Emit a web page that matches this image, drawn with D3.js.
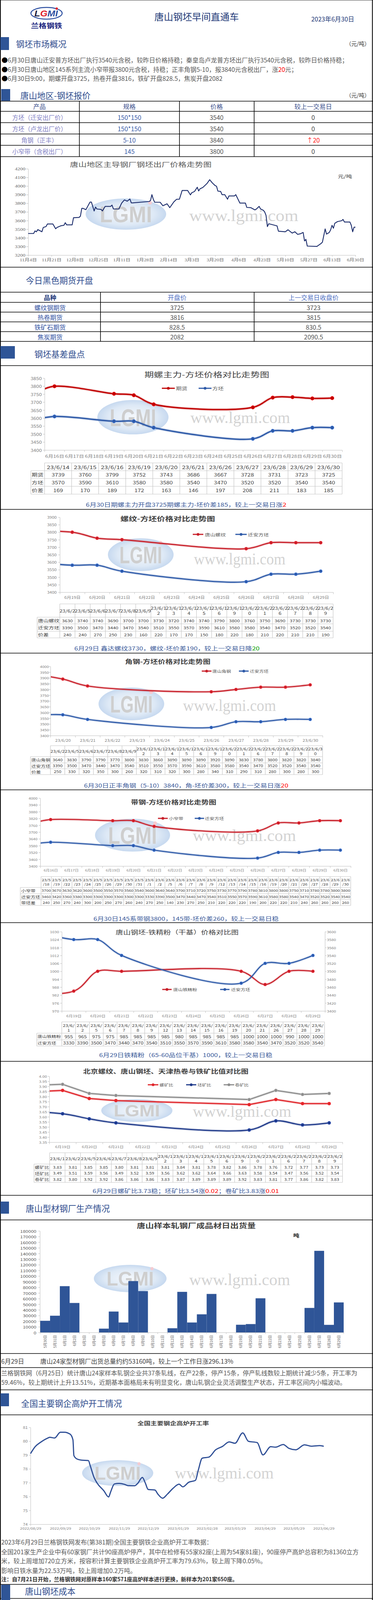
<!DOCTYPE html>
<html>
<head>
<meta charset="utf-8">
<title>唐山钢坯早间直通车</title>
<script src="https://cdn.jsdelivr.net/npm/d3@7/dist/d3.min.js"></script>
<style>
  body { margin: 0; background: #fff; }
  svg { display: block; }
</style>
</head>
<body>
<script>
// ================= data =================
// 唐山地区-钢坯报价
const quoteProducts = ["方坯（迁安出厂价）", "方坯（卢龙出厂价）", "角钢（正丰）", "小窄带（含税出厂）"];
const quoteSpecs = ["150*150", "150*150", "5-10", "145"];
const quotePrices = [3540, 3540, 3840, 3800];
const quoteChanges = [0, 0, 20, 0];

// 今日黑色期货开盘
const futNames = ["螺纹钢期货", "热卷期货", "铁矿石期货", "焦炭期货"];
const futOpen = ["3725", "3816", "828.5", "2082"];
const futPrev = ["3723", "3815", "830.5", "2090.5"];

// 唐山地区主导钢厂钢坯出厂价格走势
const billetDates = [
  "22-11-04","22-11-08","22-11-09","22-11-10","22-11-11","22-11-14","22-11-15","22-11-17","22-11-18","22-11-22",
  "22-11-24","22-11-25","22-11-28","22-11-30","22-12-01","22-12-02","22-12-06","22-12-07","22-12-11","22-12-12",
  "22-12-13","22-12-14","22-12-16","22-12-19","22-12-20","22-12-22","22-12-23","22-12-24","22-12-27","22-12-28",
  "22-12-30","23-01-03","23-01-04","23-01-05","23-01-09","23-01-11","23-01-13","23-01-14","23-01-15","23-01-17",
  "23-01-18","23-01-19","23-01-31","23-02-01","23-02-02","23-02-03","23-02-04","23-02-08","23-02-10","23-02-13",
  "23-02-15","23-02-18","23-02-20","23-02-22","23-02-24","23-02-28","23-03-02","23-03-03","23-03-05","23-03-07",
  "23-03-08","23-03-09","23-03-11","23-03-14","23-03-16","23-03-18","23-03-20","23-03-21","23-03-22","23-03-24",
  "23-03-25","23-03-27","23-03-29","23-03-30","23-04-03","23-04-04","23-04-07","23-04-11","23-04-12","23-04-15",
  "23-04-18","23-04-19","23-04-21","23-04-22","23-04-24","23-04-25","23-04-26","23-04-27","23-04-28","23-05-04",
  "23-05-05","23-05-10","23-05-12","23-05-15","23-05-17","23-05-19","23-05-21","23-05-23","23-05-24","23-05-25",
  "23-05-26","23-06-02","23-06-05","23-06-06","23-06-08","23-06-09","23-06-11","23-06-12","23-06-13","23-06-14",
  "23-06-15","23-06-17","23-06-20","23-06-21","23-06-22","23-06-26","23-06-27","23-06-28","23-06-29","23-06-30"];
const billetPrices = [
  3450,3450,3480,3470,3495,3470,3520,3530,3560,3560,
  3505,3520,3540,3545,3575,3550,3550,3633,3636,3651,
  3741,3741,3726,3814,3814,3711,3756,3734,3729,3711,
  3764,3764,3779,3734,3734,3802,3839,3832,3824,3850,
  3805,3805,3821,3832,3900,3847,3812,3812,3771,3794,
  3749,3817,3847,3847,3948,3948,3897,3922,3937,3986,
  3943,3968,3983,4028,4073,4035,4005,3997,3941,3937,
  3900,3900,3847,3885,3885,3900,3802,3802,3752,3749,
  3723,3734,3764,3734,3719,3700,3660,3530,3563,3538,
  3477,3470,3493,3455,3470,3440,3447,3462,3364,3382,
  3304,3300,3334,3349,3503,3443,3462,3493,3545,3511,
  3568,3588,3598,3613,3583,3583,3545,3470,3523,3523];

// 期螺主力-方坯
const basisDates = ["23/6/14","23/6/15","23/6/16","23/6/19","23/6/20","23/6/21","23/6/26","23/6/27","23/6/28","23/6/29","23/6/30"];
const basisFutures = [3739, 3760, 3799, 3752, 3743, 3686, 3667, 3728, 3731, 3723, 3725];
const basisBillet = [3570, 3590, 3610, 3580, 3580, 3540, 3470, 3520, 3520, 3540, 3540];
const basisSpread = [169, 170, 189, 172, 163, 146, 197, 208, 211, 183, 185];

// 螺纹-方坯
const rebarDates = ["23/6/2","23/6/5","23/6/6","23/6/7","23/6/8","23/6/9","23/6/12","23/6/13","23/6/14","23/6/15","23/6/16","23/6/19","23/6/20","23/6/21","23/6/26","23/6/27","23/6/28","23/6/29"];
const rebarPrice = [3630,3740,3740,3690,3700,3700,3730,3720,3740,3740,3790,3800,3760,3750,3690,3730,3730,3730];
const rebarBillet = [3390,3500,3470,3440,3470,3540,3510,3550,3570,3590,3610,3580,3580,3540,3470,3520,3520,3540];
const rebarSpread = [240,240,270,250,230,160,220,170,170,150,180,220,180,210,220,210,210,190];

// 角钢-方坯
const angleDates = ["23/6/2","23/6/5","23/6/6","23/6/7","23/6/8","23/6/9","23/6/12","23/6/13","23/6/14","23/6/15","23/6/16","23/6/19","23/6/20","23/6/21","23/6/26","23/6/27","23/6/28","23/6/29","23/6/30"];
const anglePrice = [3640,3830,3790,3790,3770,3800,3830,3860,3890,3890,3890,3920,3890,3830,3780,3800,3820,3820,3840];
const angleBillet = [3390,3500,3470,3440,3470,3540,3510,3550,3570,3590,3610,3580,3580,3540,3470,3520,3520,3540,3540];
const angleSpread = [250,330,320,350,300,260,320,310,320,300,280,340,310,290,310,280,300,280,300];

// 带钢-方坯
const stripDates = ["23/5/18","23/5/19","23/5/22","23/5/23","23/5/24","23/5/25","23/5/26","23/5/29","23/5/30","23/5/31",
  "23/6/1","23/6/2","23/6/5","23/6/6","23/6/7","23/6/8","23/6/9","23/6/12","23/6/13","23/6/14",
  "23/6/15","23/6/16","23/6/19","23/6/20","23/6/21","23/6/26","23/6/27","23/6/28","23/6/29","23/6/30"];
const stripPrice = [3700,3670,3630,3620,3600,3500,3550,3570,3560,3540,3600,3640,3640,3700,3710,3720,3750,3730,3770,3790,3780,3810,3800,3800,3750,3710,3780,3780,3800,3800];
const stripBillet = [3460,3420,3360,3380,3300,3300,3300,3300,3300,3300,3330,3390,3500,3470,3440,3470,3540,3510,3550,3570,3590,3610,3580,3580,3540,3470,3520,3520,3540,3540];
const stripSpread = [240,250,270,240,300,200,250,270,260,240,270,250,140,230,270,250,210,220,220,220,190,200,220,220,210,240,260,260,260,260];

// 钢坯-铁精粉
const oreDates = ["23/6/1","23/6/2","23/6/5","23/6/6","23/6/7","23/6/8","23/6/9","23/6/12","23/6/13","23/6/14","23/6/15","23/6/16","23/6/19","23/6/20","23/6/21","23/6/26","23/6/27","23/6/28","23/6/29"];
const orePrice = [955,965,975,975,985,985,985,985,980,985,985,985,985,1000,1000,1000,990,1000,1000];
const oreBillet = [3330,3390,3500,3470,3440,3470,3540,3510,3550,3570,3590,3610,3580,3580,3540,3470,3520,3520,3540];

// 比值
const ratioDates = oreDates;
const ratioRebar = [3.83,3.81,3.85,3.85,3.80,3.81,3.81,3.81,3.84,3.81,3.78,3.82,3.86,3.78,3.76,3.72,3.77,3.73,3.73];
const ratioBillet = [3.49,3.51,3.59,3.56,3.49,3.52,3.59,3.56,3.62,3.62,3.64,3.66,3.63,3.58,3.54,3.47,3.56,3.52,3.54];
const ratioCoil = [3.82,3.80,3.92,3.92,3.86,3.86,3.86,3.83,3.87,3.89,3.89,3.89,3.92,3.83,3.81,3.77,3.86,3.82,3.83];

// 成品材日出货量
const shipDays = ["5月30日","5月31日","6月1日","6月2日","6月3日","6月4日","6月5日","6月6日","6月7日","6月8日","6月9日",
  "6月10日","6月11日","6月12日","6月13日","6月14日","6月15日","6月16日","6月17日","6月18日","6月19日","6月20日",
  "6月21日","6月22日","6月23日","6月24日","6月25日","6月26日","6月27日","6月28日","6月29日"];
const shipValues = [20600,29600,82000,52200,0,0,6700,37000,17600,91000,73200,
  0,0,7400,71900,17600,32100,68200,0,0,13600,14800,
  60500,0,0,0,0,43400,144600,13420,53160];

// 高炉开工率
const bfDates = ["2022-08-29","2022-09-03","2022-09-08","2022-09-16","2022-09-18","2022-09-23","2022-09-29","2022-10-03","2022-10-09","2022-10-12",
  "2022-10-13","2022-10-16","2022-10-21","2022-10-28","2022-10-30","2022-11-03","2022-11-06","2022-11-13","2022-11-18","2022-11-20",
  "2022-11-24","2022-11-29","2022-12-04","2022-12-08","2022-12-15","2022-12-18","2022-12-23","2022-12-26","2022-12-29","2023-01-05",
  "2023-01-08","2023-01-13","2023-01-18","2023-01-24","2023-01-30","2023-02-03","2023-02-09","2023-02-16","2023-02-19","2023-02-23",
  "2023-03-02","2023-03-09","2023-03-16","2023-03-23","2023-03-29","2023-04-06","2023-04-12","2023-04-21","2023-04-27","2023-05-05",
  "2023-05-10","2023-05-18","2023-05-24","2023-05-31","2023-06-09","2023-06-16","2023-06-25","2023-06-29"];
const bfRates = [79.10,79.62,79.90,80.23,80.28,80.23,80.65,80.65,80.51,80.10,
  78.96,78.72,78.63,78.60,78.21,77.36,76.98,76.42,75.97,76.32,
  76.91,76.95,76.89,76.79,76.78,76.94,77.38,76.98,76.51,76.47,
  76.18,75.88,76.18,76.61,76.89,76.70,77.03,77.17,77.92,78.77,
  78.85,79.38,79.62,79.95,79.85,80.60,79.99,79.90,79.01,79.60,
  79.57,79.76,79.48,79.38,79.74,79.64,79.68,79.63];
const bfTicks = ["2022/08/29","2022/09/29","2022/10/29","2022/11/29","2022/12/29","2023/01/29","2023/02/28","2023/03/29","2023/04/29","2023/05/29","2023/06/29"];

// 钢坯出厂价与成本（2023-03-15 起逐日）
const costStart = "2023-03-15";
const costBillet = [
  4067,4010,4000,3989,3968,3942,3938,3903,3900,3845,
  3845,3855,3865,3880,3880,3882,3900,3886,3856,3829,
  3800,3800,3800,3800,3786,3771,3751,3750,3750,3719,
  3739,3740,3740,3740,3742,3759,3727,3680,3634,3583,
  3546,3528,3560,3557,3499,3487,3482,3478,3475,3474,
  3470,3470,3470,3470,3470,3489,3446,3470,3465,3452,
  3440,3440,3445,3455,3462,3423,3399,3378,3364,3360,
  3380,3300,3300,3300,3300,3300,3300,3300,3300,3340,
  3400,3450,3488,3501,3478,3440,3499,3540,3533,3513,
  3513,3552,3575,3602,3610,3598,3587,3580,3545,3522,
  3505,3490,3478,3470,3522,3522,3535];
const costAvg = [
  3926,3982,3982,3982,3982,3982,3982,3956,3956,3956,
  3956,3956,3956,3956,3921,3921,3921,3921,3921,3921,
  3921,3921,3921,3921,3921,3921,3921,3921,3870,3870,
  3870,3870,3870,3870,3870,3815,3815,3815,3815,3815,
  3815,3815,3766,3766,3766,3766,3727,3703,3675,3649,
  3623,3618,3618,3618,3618,3618,3542,3542,3542,3542,
  3542,3542,3542,3525,3525,3525,3497,3470,3443,3443,
  3443,3443,3443,3443,3443,3443,3443,3411,3411,3411,
  3411,3411,3411,3411,3382,3382,3382,3382,3382,3382,
  3382,3376,3376,3376,3376,3376,3376,3376,3440,3440,
  3440,3440,3440,3440,3440,3416,3416];

// ================= page =================
const W = 954, H = 4467;
const FONT = "'Noto Sans CJK SC','Noto Sans',sans-serif";
const SERIF = "'Liberation Serif','Noto Sans CJK SC',serif";
const SX = 1.3;              // the chart pictures are stretched sideways
const RED = "#c8202a", BLUE = "#2e5aa8", CAP = "#3b5a9a";

const svg = d3.select("body").append("svg").attr("width", W).attr("height", H);
svg.append("rect").attr("width", W).attr("height", H).attr("fill", "#fff");
const defs = svg.append("defs");
const layer = svg.append("g");

function txt(g, x, y, s, o = {}) {
  const t = g.append("text")
    .attr("transform", `translate(${x},${y})` + (o.sx ? ` scale(${o.sx},1)` : ""))
    .attr("font-family", o.family || FONT)
    .attr("font-size", o.size || 14)
    .attr("font-weight", o.weight || 400)
    .attr("fill", o.fill || "#444")
    .attr("text-anchor", o.anchor || "start")
    .attr("dominant-baseline", "central");
  if (Array.isArray(s)) s.forEach(p => t.append("tspan").attr("fill", p[1] || null).text(p[0]));
  else t.text(s);
  return t;
}

// watermark
const grad = defs.append("radialGradient").attr("id", "wmfill");
grad.append("stop").attr("offset", "0%").attr("stop-color", "#f3f7fc");
grad.append("stop").attr("offset", "70%").attr("stop-color", "#d6e4f4");
grad.append("stop").attr("offset", "100%").attr("stop-color", "#b9d0ec");
function watermark(cx, cy, rx, ry, tx, ty, tw, ts) {
  const g = layer.append("g").attr("opacity", 0.8);
  g.append("ellipse").attr("cx", cx).attr("cy", cy).attr("rx", rx).attr("ry", ry).attr("fill", "url(#wmfill)");
  const fs = ry * 1.45, k = (rx * 1.3) / (2.5 * fs);
  g.append("text").attr("transform", `translate(${cx},${cy}) scale(${k},1)`).attr("dy", "0.36em")
    .attr("text-anchor", "middle").attr("font-family", "'Liberation Sans',sans-serif")
    .attr("font-weight", 700).attr("font-size", fs).attr("fill", "#c3c3c3").text("LGMI");
  g.append("circle").attr("cx", cx + rx * 0.6).attr("cy", cy - ry * 0.72)
    .attr("r", Math.max(3, ry * 0.12)).attr("fill", "#f2c0c8");
  g.append("text").attr("x", tx).attr("y", ty).attr("dy", "0.3em")
    .attr("font-family", "'Liberation Serif',serif").attr("font-size", ts).attr("fill", "#c9c9c9")
    .attr("textLength", tw).attr("lengthAdjust", "spacingAndGlyphs").text("www.lgmi.com");
}

function axisY(g, scale, ax, ticks, o) {
  const gen = (o.right ? d3.axisRight(scale) : d3.axisLeft(scale))
    .tickValues(ticks).tickSize(o.tick ?? 4).tickSizeOuter(0).tickFormat(o.fmt || d3.format("d"));
  const a = g.append("g").attr("transform", `translate(${ax},0)`).call(gen);
  a.attr("font-family", null).attr("font-size", null);
  a.select(".domain").attr("stroke", "#bfbfbf");
  a.selectAll(".tick line").attr("stroke", "#bfbfbf");
  a.selectAll(".tick text").attr("x", null).attr("dy", null)
    .attr("transform", `translate(${o.right ? o.gap : -o.gap},0) scale(${o.sx ?? SX},1)`)
    .attr("dominant-baseline", "central").attr("fill", o.color || "#808080")
    .attr("font-size", o.size).attr("font-family", o.family || FONT);
  return a;
}
function axisX(g, scale, yAx, ticks, fmt, o) {
  const a = g.append("g").attr("transform", `translate(0,${yAx})`)
    .call(d3.axisBottom(scale).tickValues(ticks).tickSize(o.tick ?? 0).tickSizeOuter(0).tickFormat(fmt));
  a.attr("font-family", null).attr("font-size", null);
  if (o.noDomain) a.select(".domain").remove(); else a.select(".domain").attr("stroke", "#bfbfbf");
  a.selectAll(".tick line").attr("stroke", "#bfbfbf");
  a.selectAll(".tick text").attr("y", null).attr("dy", null)
    .attr("transform", `translate(0,${o.off}) scale(${o.sx ?? SX},1)`)
    .attr("dominant-baseline", "central").attr("fill", o.color || "#808080")
    .attr("font-size", o.size).attr("font-family", o.family || FONT);
  return a;
}

function legend(g, y, items, size, dots = true) {
  items.forEach(it => {
    g.append("line").attr("x1", it[2]).attr("x2", it[3]).attr("y1", y).attr("y2", y)
      .attr("stroke", it[1]).attr("stroke-width", 3);
    if (dots) g.append("circle").attr("cx", (it[2] + it[3]) / 2).attr("cy", y).attr("r", 3.5).attr("fill", it[1]);
    txt(g, it[4], y, it[0], { size, sx: SX, fill: it[5] || "#595959" });
  });
}

function dataTable(g, t) {
  const n = t.heads.length;
  const band = d3.scaleBand().domain(d3.range(n)).range([t.x0, t.x1]);
  const col = "#c6c6c6", ys = t.ys, yEnd = ys[ys.length - 1];
  ys.forEach((yy, i) => g.append("line").attr("x1", i === 0 ? t.x0 : t.lx).attr("x2", t.x1)
    .attr("y1", yy).attr("y2", yy).attr("stroke", col).attr("stroke-width", 1.2));
  g.append("line").attr("x1", t.lx).attr("x2", t.lx).attr("y1", ys[1]).attr("y2", yEnd).attr("stroke", col).attr("stroke-width", 1.2);
  d3.range(n + 1).forEach(i => {
    const xx = t.x0 + i * band.step();
    g.append("line").attr("x1", xx).attr("x2", xx).attr("y1", ys[0]).attr("y2", yEnd).attr("stroke", col).attr("stroke-width", 1.2);
  });
  const fmt = t.fmt || (v => String(v));
  t.heads.forEach((h, i) => {
    const lines = t.split && h.length > t.split ? [h.slice(0, t.split), h.slice(t.split)] : [h];
    const cy = (ys[0] + ys[1]) / 2, lh = t.hfs * 1.3;
    lines.forEach((s, k) => txt(g, band(i) + band.bandwidth() / 2, cy + (k - (lines.length - 1) / 2) * lh, s,
      { size: t.hfs, sx: SX, anchor: "middle", fill: "#404040" }));
  });
  t.rows.forEach((r, j) => {
    const cy = (ys[j + 1] + ys[j + 2]) / 2;
    txt(g, t.lx + 2, cy, r[0], { size: t.lfs, sx: SX, fill: "#404040" });
    r[1].forEach((v, i) => txt(g, band(i) + band.bandwidth() / 2, cy, fmt(v),
      { size: t.fs, sx: SX, anchor: "middle", fill: "#404040" }));
  });
}

function parseCat(s) {
  const [yy, m, d] = s.split("/").map(Number);
  return new Date(2000 + yy, m - 1, d, 12);
}
const mdFmt = d => `${d.getMonth() + 1}月${d.getDate()}日`;

function catChart(c) {
  if (c.wm) watermark(...c.wm);
  const g = layer.append("g");
  const t0 = new Date(2023, c.start[0] - 1, c.start[1]);
  const x = d3.scaleTime().domain([t0, d3.timeDay.offset(t0, c.n)]).range([c.x0, c.x1]);
  const y = d3.scaleLinear().domain([c.yMin, c.yMax]).range([c.yBot, c.yTop]);
  txt(g, c.tx, c.ty, c.title, { size: c.tsize, weight: c.tweight || 400, sx: SX, anchor: "middle", fill: "#404040" });
  const yt = c.yTicks || d3.range(c.yMin, c.yMax + c.yStep / 2, c.yStep);
  axisY(g, y, c.x0, yt, { gap: c.x0 - c.yLab, size: c.ySize, fmt: c.yFmt });
  let yR = null;
  if (c.right) {
    yR = d3.scaleLinear().domain([c.right.min, c.right.max]).range([c.yBot, c.yTop]);
    axisY(g, yR, c.x1, d3.range(c.right.min, c.right.max + 1, c.right.step),
      { right: true, gap: c.right.lab - c.x1, size: c.ySize });
  }
  const bounds = d3.range(c.n + 1).map(i => d3.timeDay.offset(t0, i));
  axisX(g, x, c.yBot, bounds, () => "", { tick: 5, off: 0, size: 1 });
  const centers = d3.range(c.n).map(i => d3.timeHour.offset(bounds[i], 12));
  axisX(g, x, c.yBot, centers, c.xFmt || mdFmt, { noDomain: true, off: c.xOff, size: c.xSize });

  const id = "clip" + c.id;
  defs.append("clipPath").attr("id", id).append("rect")
    .attr("x", c.x0 + 1).attr("y", c.yTop - 30).attr("width", c.x1 - c.x0 + 8).attr("height", c.yBot - c.yTop + 29);
  const sg = g.append("g").attr("clip-path", `url(#${id})`);
  const dates = c.dates.map(parseCat);
  c.series.forEach(s => {
    const sy = s.right ? yR : y;
    const pts = dates.map((d, i) => [x(d), sy(s.values[i])]);
    const line = d3.line().curve(s.curve || d3.curveCatmullRom);
    sg.append("path").attr("d", line(pts)).attr("fill", "none").attr("stroke", s.color)
      .attr("stroke-width", c.lw + 4).attr("stroke-opacity", 0.16).attr("stroke-linecap", "round");
    sg.append("path").attr("d", line(pts)).attr("fill", "none").attr("stroke", s.color)
      .attr("stroke-width", c.lw).attr("stroke-linejoin", "round");
    sg.selectAll(null).data(pts).join("circle")
      .attr("cx", d => d[0]).attr("cy", d => d[1]).attr("r", c.mr)
      .attr("fill", s.color).attr("stroke", d3.color(s.color).brighter(0.9)).attr("stroke-width", 1);
  });
  legend(g, c.legY, c.legend, c.legSize);
  dataTable(g, c.table);
  txt(g, c.capX, c.capY, c.caption, { size: 13.4, sx: SX, anchor: "middle", fill: CAP });
}

// ---------- frame ----------
const frame = layer.append("g");
[0, 259, 285, 314, 343, 372, 401, 684, 748, 774, 799, 824, 849, 874, 936, 1304, 1672, 2022, 2362,
  2717, 3060, 3123, 3465, 3501, 3558, 3622, 4056, 4092, 4466].forEach(yy =>
  frame.append("line").attr("x1", 0).attr("x2", W).attr("y1", yy).attr("y2", yy).attr("stroke", "#000").attr("stroke-width", 1.6));
[1, 952.5].forEach(xx => frame.append("line").attr("x1", xx).attr("x2", xx).attr("y1", 0).attr("y2", 4466)
  .attr("stroke", "#000").attr("stroke-width", 2));
[203, 459, 650].forEach(xx => frame.append("line").attr("x1", xx).attr("x2", xx).attr("y1", 259).attr("y2", 401)
  .attr("stroke", "#000").attr("stroke-width", 1.6));
[257, 650].forEach(xx => frame.append("line").attr("x1", xx).attr("x2", xx).attr("y1", 748).attr("y2", 874)
  .attr("stroke", "#000").attr("stroke-width", 1.6));

function section(title, y, bar, textX, unit) {
  if (bar) frame.append("rect").attr("x", bar[0]).attr("y", bar[2]).attr("width", bar[1])
    .attr("height", bar[3] - bar[2]).attr("fill", "#2f5597");
  txt(frame, textX, y, title, { size: 21.5, fill: "#2e4c8e" });
  if (unit) txt(frame, 946, y, "（元/吨）", { size: 14, fill: "#333", anchor: "end" });
}

// ---------- header ----------
{
  const g = layer.append("g");
  g.append("ellipse").attr("cx", 119).attr("cy", 34).attr("rx", 40).attr("ry", 15)
    .attr("fill", "none").attr("stroke", "#2b4ea0").attr("stroke-width", 2.5);
  const t = g.append("text").attr("x", 118).attr("y", 34).attr("dy", "0.36em").attr("text-anchor", "middle")
    .attr("font-family", "'Liberation Sans',sans-serif").attr("font-weight", 700).attr("font-style", "italic")
    .attr("font-size", 22).attr("textLength", 60).attr("lengthAdjust", "spacingAndGlyphs");
  [["L", "#1c1c3c"], ["G", "#e0202a"], ["M", "#2b4ea0"], ["I", "#2b4ea0"]].forEach(p => t.append("tspan").attr("fill", p[1]).text(p[0]));
  g.append("circle").attr("cx", 145).attr("cy", 22).attr("r", 3).attr("fill", "#e0202a");
  txt(g, 119, 64, "兰格钢铁", { size: 17, weight: 700, fill: "#1a237e", anchor: "middle" })
    .attr("textLength", 80).attr("lengthAdjust", "spacingAndGlyphs");
  txt(g, 503, 41, "唐山钢坯早间直通车", { size: 24, fill: "#1f3a78", anchor: "middle" });
  txt(g, 851, 48, "2023年6月30日", { size: 16, fill: "#1f3a78", anchor: "middle" });
}

// ---------- 钢坯市场概况 ----------
section("钢坯市场概况", 111, [1, 22, 95, 128], 41, true);
{
  const g = layer.append("g");
  const lines = [
    [["●", "#000"], ["6月30日唐山迁安普方坯出厂执行3540元含税，较昨日价格持稳；秦皇岛卢龙普方坯出厂执行3540元含税，较昨日价格持稳；"]],
    [["●", "#000"], ["6月30日唐山地区145系列主流小窄带报3800元含税，持稳；正丰角钢5-10，报3840元含税出厂，涨"], ["20", "#ff0000"], ["元；"]],
    [["●", "#000"], ["6月30日9:00，期螺开盘3725，热卷开盘3816，铁矿开盘828.5，焦炭开盘2082"]]
  ];
  [153, 177, 200].forEach((yy, i) => txt(g, 4, yy, lines[i], { size: 15.8, fill: "#595959" }));
}

// ---------- 唐山地区-钢坯报价 ----------
section("唐山地区-钢坯报价", 243, [3, 23, 228, 258], 52, true);
{
  const g = layer.append("g");
  const cols = [101, 331, 554, 801];
  ["产品", "规格", "价格", "较上一交易日"].forEach((h, i) => txt(g, cols[i], 272, h, { size: 16, fill: "#3b4f8c", anchor: "middle" }));
  const rowY = d3.scaleBand().domain(d3.range(quoteProducts.length)).range([285, 401]);
  quoteProducts.forEach((p, i) => {
    const cy = rowY(i) + rowY.bandwidth() / 2;
    txt(g, cols[0], cy, p, { size: 15.5, fill: "#7f80c4", anchor: "middle" });
    txt(g, cols[1], cy, quoteSpecs[i], { size: 16, fill: "#3a5ca8", anchor: "middle" });
    txt(g, cols[2], cy, String(quotePrices[i]), { size: 16, fill: "#555", anchor: "middle" });
    const ch = quoteChanges[i];
    txt(g, cols[3], cy, ch > 0 ? "↑" + ch : String(ch), { size: 16, fill: ch > 0 ? "#ff2020" : "#444", anchor: "middle" });
  });
}

// ---------- chart 1: 出厂价格走势 ----------
{
  watermark(322, 548, 103, 40, 484, 553, 279, 42);
  const g = layer.append("g");
  const parse = d3.timeParse("%y-%m-%d");
  const t0 = parse(billetDates[0]);
  const x = d3.scaleTime().domain([t0, parse(billetDates[billetDates.length - 1])]).range([72, 909]);
  const y = d3.scaleLinear().domain([3200, 4200]).range([653, 432]);
  txt(g, 360, 420, "唐山地区主导钢厂钢坯出厂价格走势图", { size: 16.4, sx: SX, fill: "#595959", anchor: "middle" });
  txt(g, 864, 451, "元/吨", { size: 11.7, sx: SX, fill: "#333" });
  axisY(g, y, 72, d3.range(3200, 4201, 100), { gap: 7, size: 10.4, family: SERIF, color: "#666", tick: 5 });
  axisX(g, x, 653, d3.range(15).map(i => d3.timeDay.offset(t0, 17 * i)), mdFmt,
    { tick: 4, off: 13, size: 9.8, family: SERIF, color: "#666" });
  g.append("path").attr("d", d3.line().x((d, i) => x(parse(d))).y((d, i) => y(billetPrices[i]))(billetDates))
    .attr("fill", "none").attr("stroke", "#1b2c6b").attr("stroke-width", 2.2).attr("stroke-linejoin", "round");
}

// ---------- 今日黑色期货开盘 ----------
section("今日黑色期货开盘", 716, null, 66, false);
{
  const g = layer.append("g");
  const cols = [128, 453, 802];
  txt(g, cols[0], 761, "品种", { size: 16, weight: 700, fill: "#1f3a7a", anchor: "middle" });
  txt(g, cols[1], 761, "开盘价", { size: 16, fill: "#4a6cc0", anchor: "middle" });
  txt(g, cols[2], 761, "上一交易日收盘价", { size: 16, fill: "#4a6cc0", anchor: "middle" });
  const rowY = d3.scaleBand().domain(d3.range(futNames.length)).range([774, 874]);
  futNames.forEach((n, i) => {
    const cy = rowY(i) + rowY.bandwidth() / 2;
    txt(g, cols[0], cy, n, { size: 16, fill: "#2f4fa0", anchor: "middle" });
    txt(g, cols[1], cy, futOpen[i], { size: 16, fill: "#555", anchor: "middle" });
    txt(g, cols[2], cy, futPrev[i], { size: 16, fill: "#555", anchor: "middle" });
  });
}

// ---------- 钢坯基差盘点 ----------
section("钢坯基差盘点", 905, [1, 37, 886, 918], 88, false);

catChart({
  id: 2, start: [6, 16], n: 15, x0: 114, x1: 875, yTop: 968, yBot: 1152, yMin: 3400, yMax: 3850, yStep: 50,
  yLab: 107, ySize: 10, xOff: 15, xSize: 10.2,
  title: "期螺主力-方坯价格对比走势图", tx: 529, ty: 958, tsize: 18.4,
  dates: basisDates, series: [{ values: basisFutures, color: "#c00000" }, { values: basisBillet, color: BLUE }],
  lw: 3.5, mr: 4.5,
  legY: 994, legSize: 11.2, legend: [["期货", "#c00000", 414, 447, 450], ["方坯", BLUE, 508, 541, 543]],
  table: { lx: 79, x0: 114, x1: 875, ys: [1185, 1205, 1225, 1245, 1265], heads: basisDates, split: 0, hfs: 12.5, fs: 11.5, lfs: 11.5,
    rows: [["期货", basisFutures], ["方坯", basisBillet], ["价差", basisSpread]] },
  capX: 476, capY: 1291, caption: [["6月30日期螺主力开盘3725期螺主力-坯价差185，较上一交易日涨"], ["2", "#ff0000"]],
  wm: [340, 1068, 91, 44, 487, 1070, 255, 42]
});

catChart({
  id: 3, start: [6, 19], n: 11, x0: 153, x1: 852, yTop: 1324, yBot: 1516, yMin: 3400, yMax: 3900, yStep: 50,
  yLab: 145, ySize: 8.5, xOff: 13, xSize: 8.7,
  title: "螺纹-方坯价格对比走势图", tx: 429, ty: 1327, tsize: 16.4, tweight: 700,
  dates: rebarDates, series: [{ values: rebarPrice, color: RED }, { values: rebarBillet, color: BLUE }],
  lw: 3, mr: 4,
  legY: 1368, legSize: 10.3, legend: [["唐山螺纹", RED, 493, 520, 524], ["迁安方坯", BLUE, 602, 631, 634]],
  table: { lx: 95, x0: 153, x1: 852, ys: [1546, 1580, 1597, 1616, 1633], heads: rebarDates, split: 6, hfs: 10.2, fs: 9.6, lfs: 10.6,
    rows: [["唐山螺纹", rebarPrice], ["迁安方坯", rebarBillet], ["价差", rebarSpread]] },
  capX: 427, capY: 1659, caption: [["6月29日 鑫达螺纹3730，螺纹-坯价差190，较上一交易日降"], ["20", "#00a000"]],
  wm: [360, 1420, 84, 42, 496, 1432, 234, 42]
});

catChart({
  id: 4, start: [6, 20], n: 11, x0: 129, x1: 825, yTop: 1706, yBot: 1883, yMin: 3400, yMax: 4000, yStep: 50,
  yLab: 125, ySize: 7.9, xOff: 12, xSize: 8.6, xFmt: d => `23/6/${d.getDate()}`,
  title: "角钢-方坯价格对比走势图", tx: 429, ty: 1693, tsize: 14.8, tweight: 700,
  dates: angleDates, series: [{ values: anglePrice, color: RED }, { values: angleBillet, color: BLUE }],
  lw: 2.8, mr: 3.8,
  legY: 1718, legSize: 9.2, legend: [["唐山角钢", RED, 516, 541, 543], ["迁安方坯", BLUE, 611, 636, 639]],
  table: { lx: 78, x0: 129, x1: 825, ys: [1909, 1937, 1953, 1968, 1983], heads: angleDates, split: 6, hfs: 9.3, fs: 8.9, lfs: 9.4,
    rows: [["唐山角钢", anglePrice], ["迁安方坯", angleBillet], ["价差", angleSpread]] },
  capX: 476, capY: 2010, caption: [["6月30日正丰角钢（5-10）3840，角-坯价差300，较上一交易日涨"], ["20", "#ff0000"]],
  wm: [336, 1802, 84, 42, 468, 1807, 238, 42]
});

catChart({
  id: 5, start: [6, 16], n: 15, x0: 103, x1: 897, yTop: 2043, yBot: 2217, yMin: 3400, yMax: 4000, yStep: 60,
  yLab: 96, ySize: 7.9, xOff: 11, xSize: 7.7,
  title: "带钢-方坯价格对比走势图", tx: 444, ty: 2053, tsize: 14.8, tweight: 700,
  dates: stripDates, series: [{ values: stripPrice, color: RED }, { values: stripBillet, color: BLUE }],
  lw: 2.8, mr: 3.8,
  legY: 2095, legSize: 9.4, legend: [["小窄带", RED, 404, 429, 432], ["迁安方坯", BLUE, 498, 522, 524]],
  table: { lx: 52, x0: 105, x1: 897, ys: [2244, 2272, 2288, 2303, 2318], heads: stripDates, split: 4, hfs: 8.4, fs: 8.3, lfs: 9.4,
    rows: [["小窄带", stripPrice], ["迁安方坯", stripBillet], ["带坯差", stripSpread]] },
  capX: 476, capY: 2351, caption: "6月30日145系带钢3800，145带-坯价差260，较上一交易日稳",
  wm: [339, 2138, 96, 42, 493, 2140, 264, 42]
});

catChart({
  id: 6, start: [6, 19], n: 11, x0: 158, x1: 831, yTop: 2385, yBot: 2588, yMin: 970, yMax: 1030, yStep: 6,
  yLab: 151, ySize: 8.1, xOff: 13, xSize: 8.2,
  right: { min: 3400, max: 3600, step: 20, lab: 836 },
  title: "唐山钢坯-铁精粉（干基）价格对比图", tx: 453, ty: 2386, tsize: 14.8,
  dates: oreDates, series: [{ values: orePrice, color: RED }, { values: oreBillet, color: BLUE, right: true }],
  lw: 2.8, mr: 3.8,
  legY: 2533, legSize: 9.4, legend: [["唐山铁精粉", RED, 415, 439, 443], ["迁安方坯", BLUE, 563, 587, 591]],
  table: { lx: 94, x0: 158, x1: 830, ys: [2616, 2645, 2662, 2678], heads: oreDates, split: 5, hfs: 9.4, fs: 10, lfs: 9.2,
    rows: [["唐山铁精粉", orePrice], ["迁安方坯", oreBillet]] },
  capX: 475, capY: 2700, caption: "6月29日铁精粉（65-60品位干基）1000，较上一交易日稳"
});

catChart({
  id: 7, start: [6, 19], n: 11, x0: 126, x1: 876, yTop: 2755, yBot: 2924, yMin: 3.35, yMax: 4.0,
  yTicks: d3.range(14).map(i => 3.35 + i * 0.05), yFmt: d3.format(".2f"),
  yLab: 120, ySize: 8, xOff: 12, xSize: 8.2,
  title: "北京螺纹、唐山钢坯、天津热卷与铁矿比值对比图", tx: 424, ty: 2742, tsize: 14.8, tweight: 700,
  dates: ratioDates, series: [
    { values: ratioRebar, color: "#e0262b", curve: d3.curveLinear },
    { values: ratioBillet, color: "#1f3a8a" },
    { values: ratioCoil, color: "#8c8c8c", curve: d3.curveLinear }],
  lw: 3, mr: 4,
  legY: 2777, legSize: 9, legend: [["螺矿比", "#e0262b", 378, 405, 408], ["坯矿比", "#1f3a8a", 476, 502, 505], ["卷矿比", "#8c8c8c", 572, 599, 601]],
  table: { lx: 87, x0: 127, x1: 876, ys: [2951, 2980, 2996, 3011, 3027], heads: ratioDates, split: 6, hfs: 9.7, fs: 8.8, lfs: 9.4,
    fmt: d3.format(".2f"), rows: [["螺矿比", ratioRebar], ["坯矿比", ratioBillet], ["卷矿比", ratioCoil]] },
  capX: 475, capY: 3048, caption: [["6月29日螺矿比3.73稳；坯矿比3.54涨"], ["0.02", "#ff0000"], ["；卷矿比3.83涨"], ["0.01", "#ff0000"]],
  wm: [350, 2843, 91, 29, 493, 2847, 252, 40]
});

// ---------- 唐山型材钢厂生产情况 ----------
section("唐山型材钢厂生产情况", 3092, [1, 22, 3076, 3107], 66, false);
{
  watermark(333, 3273, 93, 35, 484, 3277, 258, 42);
  const g = layer.append("g");
  const x = d3.scaleBand().domain(shipDays).range([103, 879]);
  const y = d3.scaleLinear().domain([0, 180000]).range([3411, 3151]);
  txt(g, 502, 3137, "唐山样本轧钢厂成品材日出货量", { size: 16.7, weight: 700, sx: SX, anchor: "middle", fill: "#404040" });
  txt(g, 750, 3163, "吨", { size: 12, weight: 700, sx: SX, fill: "#222" });
  g.selectAll(null).data(shipValues).join("rect")
    .attr("x", (d, i) => x(shipDays[i])).attr("width", x.bandwidth())
    .attr("y", d => y(d)).attr("height", d => y(0) - y(d)).attr("fill", "#2f5597");
  axisY(g, y, 102, d3.range(0, 180001, 10000), { gap: 9, size: 9.6, color: "#595959" });
  const a = g.append("g").attr("transform", "translate(0,3411)")
    .call(d3.axisBottom(x).tickSize(0).tickSizeOuter(0));
  a.attr("font-family", null).attr("font-size", null);
  a.select(".domain").attr("stroke", "#bfbfbf");
  a.selectAll(".tick text").attr("y", null).attr("dy", "0.35em").attr("x", -7)
    .attr("transform", "rotate(-90)").attr("text-anchor", "end")
    .attr("font-size", 9).attr("font-family", FONT).attr("fill", "#595959");
  d3.range(shipDays.length + 1).forEach(i => {
    const xx = 103 + i * x.step();
    g.append("line").attr("x1", xx).attr("x2", xx).attr("y1", 3411).attr("y2", 3415).attr("stroke", "#bfbfbf");
  });
  txt(g, 3, 3484, "6月29日", { size: 16, fill: "#444" });
  txt(g, 103, 3484, "唐山24家型材钢厂出货总量约约53160吨，较上一个工作日涨296.13%", { size: 16, fill: "#444" });
  txt(g, 3, 3514, "兰格钢铁网（6月25日）统计唐山24家样本轧钢企业共37条轧线，在产22条，停产15条，停产轧线数较上期统计减少5条，开工率为", { size: 15.8, fill: "#595959" });
  txt(g, 3, 3538, "59.46%，较上期统计上升13.51%，近期基本面格局未有明显变化，唐山轧钢企业灵活调整生产状态，开工率区间内小幅波动。", { size: 15.8, fill: "#595959" });
}

// ---------- 全国主要钢企高炉开工情况 ----------
section("全国主要钢企高炉开工情况", 3591, [1, 22, 3567, 3600], 54, false);
{
  watermark(301, 3771, 91, 33, 447, 3773, 253, 40);
  const g = layer.append("g");
  const parse = d3.timeParse("%Y-%m-%d");
  const x = d3.scaleTime().domain([parse(bfDates[0]), parse(bfDates[bfDates.length - 1])]).range([78, 828]);
  const y = d3.scaleLinear().domain([74, 81]).range([3902, 3654]);
  txt(g, 443, 3642, "全国主要钢企高炉开工率", { size: 12.8, weight: 700, sx: SX, anchor: "middle", fill: "#404040" });
  axisY(g, y, 78, d3.range(74, 82), { gap: 7, size: 8.5 });
  axisX(g, x, 3902, bfTicks.map(d3.timeParse("%Y/%m/%d")), d3.timeFormat("%Y/%m/%d"), { tick: 4, off: 11, size: 8 });
  g.append("path").attr("d", d3.line().curve(d3.curveMonotoneX)
      .x(d => x(parse(d))).y((d, i) => y(bfRates[i]))(bfDates))
    .attr("fill", "none").attr("stroke", "#2f4f96").attr("stroke-width", 3);
  const para = [
    "2023年6月29日兰格钢铁网发布(第381期)全国主要钢铁企业高炉开工率数据：",
    "全国201家生产企业中有60家钢厂共计90座高炉停产，其中在检修有55家82座(上周为54家81座)，90座停产高炉总容积为81360立方",
    "米，较上周增加720立方米，按容积计算主要钢铁企业高炉开工率为79.63%，较上周下降0.05%。",
    "影响日铁水量为22.53万吨，较上周增加0.2万吨。"
  ];
  [3947, 3972, 3995, 4020].forEach((yy, i) => txt(g, 3, yy, para[i], { size: 15.8, fill: "#595959" }));
  txt(g, 3, 4042, "注：自7月21日开始，兰格钢铁网对原样本160家571座高炉样本进行更换，新样本为201家650座。", { size: 13.8, weight: 700, fill: "#333" });
}

// ---------- 唐山钢坯成本 ----------
section("唐山钢坯成本", 4072, [3, 23, 4057, 4100], 64, false);
{
  watermark(331, 4280, 88, 67, 468, 4279, 244, 56);
  const g = layer.append("g");
  const t0 = d3.timeParse("%Y-%m-%d")(costStart);
  const days = d3.timeDay.range(t0, d3.timeDay.offset(t0, costBillet.length));
  const x = d3.scaleTime().domain([t0, d3.timeDay.offset(t0, 105)]).range([119, 830]);
  const y = d3.scaleLinear().domain([3200, 4100]).range([4406, 4133]);
  txt(g, 484, 4111, "钢坯出厂价与钢坯生产成本均价走势对比图", { size: 12.9, weight: 700, sx: SX, anchor: "middle", fill: "#404040" });
  axisY(g, y, 117, d3.range(3200, 4101, 100), { gap: 6, size: 8, color: "#a0a0a0" });
  g.append("line").attr("x1", 117).attr("x2", 838).attr("y1", 4406).attr("y2", 4406).attr("stroke", "#bfbfbf");
  axisX(g, x, 4406, d3.range(16).map(i => d3.timeDay.offset(t0, 7 * i)), mdFmt, { tick: 4, off: 11, size: 7.9, color: "#a0a0a0" });
  const mk = vals => d3.line().curve(d3.curveMonotoneX).x((d, i) => x(days[i])).y(d => y(d))(vals);
  g.append("path").attr("d", mk(costAvg)).attr("fill", "none").attr("stroke", "#2f5597").attr("stroke-width", 2.4);
  g.append("path").attr("d", mk(costBillet)).attr("fill", "none").attr("stroke", "#c00000").attr("stroke-width", 2.4);
  legend(g, 4148, [["迁安方坯", "#c00000", 352, 377, 380, "#999"], ["钢坯成本均值（月度累计）", "#2f5597", 473, 499, 502, "#999"]], 8.1, false);
  txt(g, 3, 4443, "本周（6月28日）唐山地区样本长流程钢厂，钢坯含税累计成本（调研值，不含三费）均值为3416元，周环比降23元", { size: 16, fill: "#444" });
}
</script>
</body>
</html>
